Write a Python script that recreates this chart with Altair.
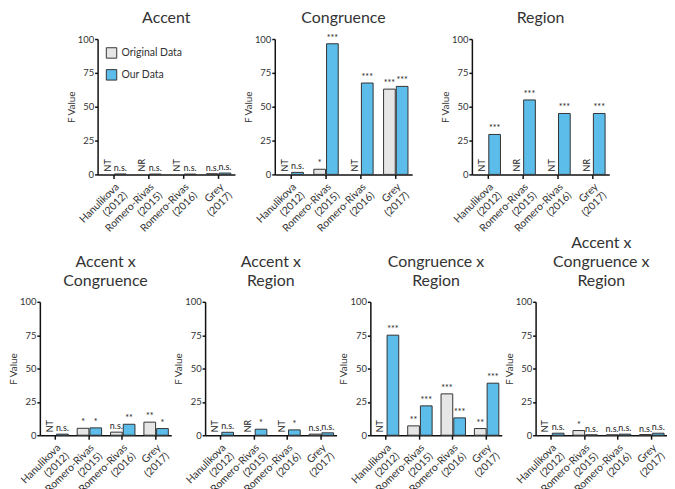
import altair as alt
import pandas as pd
import numpy as np

studies = ["Hanulikova (2012)", "Romero-Rivas (2015)", "Romero-Rivas (2016)", "Grey (2017)"]
series_names = ["Original Data", "Our Data"]
colors = ["#E6E6E6", "#5CBDEA"]

panel_titles = [
    ["Accent"],
    ["Congruence"],
    ["Region"],
    ["Accent x", "Congruence"],
    ["Accent x", "Region"],
    ["Congruence x", "Region"],
    ["Accent x", "Congruence x", "Region"],
]

NA = None
orig_values = [
    [NA, NA, NA, 0.5],
    [NA, 3.8, NA, 63.0],
    [NA, NA, NA, NA],
    [NA, 5.2, 2.3, 9.8],
    [NA, NA, NA, 0.8],
    [NA, 7.0, 31.0, 5.0],
    [NA, 3.5, 0.3, 0.5],
]
orig_labels = [
    ["NT", "NR", "NT", "n.s."],
    ["NT", "*", "NT", "***"],
    ["NT", "NR", "NT", "NR"],
    ["NT", "*", "n.s.", "**"],
    ["NT", "NR", "NT", "n.s."],
    ["NT", "**", "***", "**"],
    ["NT", "*", "n.s.", "n.s."],
]
our_values = [
    [0.3, 0.2, 0.2, 1.0],
    [1.5, 96.5, 67.5, 65.0],
    [29.5, 55.0, 45.0, 45.0],
    [0.8, 5.5, 8.2, 5.0],
    [2.2, 4.5, 4.0, 1.8],
    [75.0, 22.0, 13.0, 39.0],
    [1.5, 0.3, 0.8, 1.5],
]
our_labels = [
    ["n.s.", "n.s.", "n.s.", "n.s."],
    ["n.s.", "***", "***", "***"],
    ["***", "***", "***", "***"],
    ["n.s.", "*", "**", "*"],
    ["n.s.", "*", "*", "n.s."],
    ["***", "***", "***", "***"],
    ["n.s.", "n.s.", "n.s.", "n.s."],
]

FONT = "Lato"


def panel(i, width, height=136):
    rows = []
    for j, s in enumerate(studies):
        ov = orig_values[i][j]
        rows.append({"study": s, "series": series_names[0],
                     "value": np.nan if ov is None else ov,
                     "label": orig_labels[i][j], "zero": 0})
        rows.append({"study": s, "series": series_names[1],
                     "value": our_values[i][j],
                     "label": our_labels[i][j], "zero": 0})
    df = pd.DataFrame(rows)

    yscale = alt.Scale(domain=[0, 100], nice=False)
    yaxis = alt.Axis(title="F Value", values=[0, 25, 50, 75, 100], titlePadding=1,
                     labelFontSize=9.5, labelPadding=1, tickSize=3)

    base = alt.Chart(df).encode(
        x=alt.X("study:N", sort=studies, title=None,
                scale=alt.Scale(paddingInner=0.3, paddingOuter=0.12),
                axis=alt.Axis(labelAngle=-45, labelExpr="split(datum.label, ' ')",
                              labelLineHeight=12, labelFontSize=10.5, labelPadding=3)),
        xOffset=alt.XOffset("series:N", sort=series_names,
                            scale=alt.Scale(paddingInner=0.08)),
    )

    legend = None
    if i == 0:
        legend = alt.Legend(title=None, orient="top-left", offset=8,
                            symbolType="square", symbolSize=110,
                            symbolStrokeColor="#333", symbolStrokeWidth=1,
                            labelFont=FONT, labelFontSize=10.5, labelColor="#333",
                            rowPadding=6)

    bars = base.transform_filter("isValid(datum.value)").mark_bar(
        stroke="#333", strokeWidth=1
    ).encode(
        y=alt.Y("value:Q", scale=yscale, axis=yaxis),
        color=alt.Color("series:N", sort=series_names,
                        scale=alt.Scale(domain=series_names, range=colors),
                        legend=legend),
    )
    sig = base.transform_filter("isValid(datum.value)").mark_text(
        baseline="bottom", dy=-1, fontSize=9, font=FONT, color="#222"
    ).encode(
        y=alt.Y("value:Q", scale=yscale, axis=yaxis),
        text="label:N",
    )
    notes = base.transform_filter("!isValid(datum.value)").mark_text(
        angle=270, align="left", baseline="middle", dx=3, fontSize=9,
        font=FONT, color="#222"
    ).encode(
        y=alt.Y("zero:Q", scale=yscale, axis=yaxis),
        text="label:N",
    )
    t = panel_titles[i]
    return alt.layer(bars, sig, notes).properties(
        width=width, height=height,
        title=alt.TitleParams(text=t[0] if len(t) == 1 else t),
    )


top = alt.hconcat(
    alt.hconcat(panel(0, 138), panel(1, 138), spacing=8).resolve_scale(color="independent"),
    panel(2, 138),
    spacing=28,
).resolve_scale(color="independent")

bottom = alt.hconcat(
    panel(3, 132, 134), panel(4, 132, 134), panel(5, 132, 134), panel(6, 132, 134), spacing=2
).resolve_scale(color="independent")

chart = alt.vconcat(top, bottom, spacing=-8, center=True).resolve_scale(
    color="independent"
).properties(
    padding={"top": 0, "left": 0, "right": 0, "bottom": 14}
).configure_view(stroke=None).configure_axis(
    grid=False, domainColor="#111", domainWidth=1.5, tickColor="#111",
    tickWidth=1.5, tickSize=4, labelFont=FONT, labelFontSize=10.5,
    labelColor="#333", titleFont=FONT, titleFontSize=10,
    titleFontWeight="normal", titleColor="#333",
).configure_title(
    font=FONT, fontSize=16, fontWeight="normal", color="#333",
    anchor="middle", offset=8, lineHeight=19,
)

chart.save("out.html", embed_options={"renderer": "svg", "actions": False})
